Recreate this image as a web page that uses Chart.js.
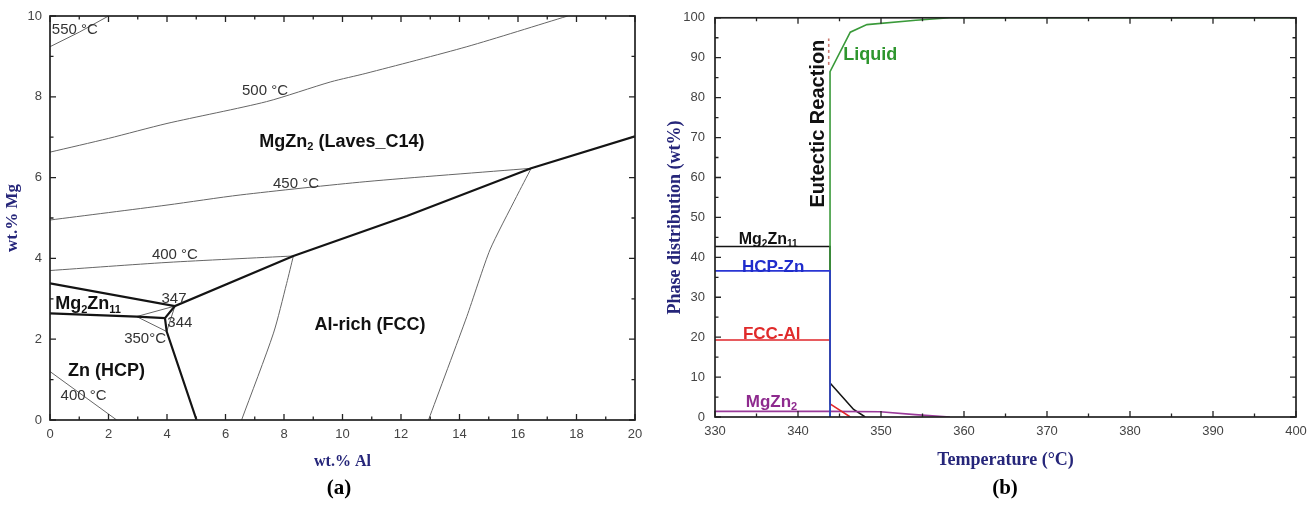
<!DOCTYPE html>
<html>
<head>
<meta charset="utf-8">
<script src="https://cdn.jsdelivr.net/npm/chart.js@4.4.1/dist/chart.umd.min.js"></script>
<style>
  html, body { margin: 0; padding: 0; background: #fff; }
  body { width: 1314px; height: 505px; position: relative; overflow: hidden; }
  .panel { position: absolute; top: 0; height: 505px; }
  #wrapA { left: 0; width: 655px; }
  #wrapB { left: 655px; width: 659px; }
  .tag { position: absolute; top: 475px; font: bold 21px "Liberation Serif", "Times New Roman", serif; color: #000; transform: translateX(-50%); }
</style>
</head>
<body>
<div class="panel" id="wrapA"><canvas id="phaseMap" width="655" height="505"></canvas></div>
<div class="panel" id="wrapB"><canvas id="phaseFrac" width="659" height="505"></canvas></div>
<div class="tag" style="left:339px">(a)</div>
<div class="tag" style="left:1005px">(b)</div>
<script>
// ---- (a) isothermal lines and phase boundaries, [wt.% Al, wt.% Mg]
const iso550 = [[0, 9.24], [1, 9.6], [2.0, 10]];
const iso500 = [[0, 6.63], [2, 6.97], [4, 7.34], [7.4, 7.88], [9.6, 8.37], [10.8, 8.58], [14.25, 9.24], [17.7, 10]];
const iso450 = [[0, 4.95], [4, 5.32], [6.5, 5.57], [10.8, 5.9], [16.45, 6.23]];
const iso400 = [[0, 3.7], [4, 3.9], [8.32, 4.06]];
const iso400low = [[0, 1.2], [2.28, 0]];
const iso350 = [[2.96, 2.56], [3.99, 2.19]];
const tieThin = [[2.96, 2.56], [4.27, 2.82], [3.99, 2.19]];
const fccLeft = [[6.55, 0], [7.64, 2.15], [8.09, 3.38], [8.32, 4.06]];
const fccRight = [[12.94, 0], [14.25, 2.56], [15.04, 4.21], [15.95, 5.53], [16.45, 6.23]];
const lavesEdge = [[0, 3.38], [4.27, 2.82], [8.32, 4.06], [12.2, 5.05], [16.45, 6.23], [20, 7.02]];
const mg2zn11Edge = [[0, 2.64], [2.96, 2.56], [3.93, 2.52], [4.27, 2.82]];
const hcpEdge = [[3.93, 2.52], [3.99, 2.19], [5.01, 0]];

// ---- (b) phase fractions vs temperature
const tMg2Zn11 = [330, 343.86, 343.86, 346.7, 348.1];
const wMg2Zn11 = [42.7, 42.7, 8.5, 1.9, 0];
const tHcp = [330, 343.86, 343.86];
const wHcp = [36.6, 36.6, 0];
const tFcc = [330, 343.86, 343.86, 346.3];
const wFcc = [19.3, 19.3, 3.3, 0];
const tMgZn2 = [330, 343.86, 349.9, 354.1, 358.3];
const wMgZn2 = [1.4, 1.4, 1.3, 0.6, 0];
const tLiquid = [343.86, 343.86, 346.3, 348.3, 354.2, 358.3, 400];
const wLiquid = [0, 86.5, 96.4, 98.3, 99.4, 100, 100];
const tEutMark = [343.7, 343.7];
const wEutMark = [88.2, 94.8];

const pts = (arr) => arr.map(([x, y]) => ({ x, y }));
const zip = (xs, ys) => xs.map((x, i) => ({ x, y: ys[i] }));

const SANS = '"Liberation Sans", Arial, sans-serif';
const SERIF = '"Liberation Serif", "Times New Roman", serif';
const NAVY = '#26267a';

// text with subscripts: parts like ['Mg', ['2'], 'Zn', ['11']]
function drawRich(ctx, parts, size, bold, color) {
  const font = (s) => (bold ? 'bold ' : '') + s + 'px ' + SANS;
  let total = 0;
  const segs = parts.map((p) => {
    const sub = Array.isArray(p);
    const txt = sub ? p[0] : p;
    const s = sub ? Math.round(size * 0.62) : size;
    ctx.font = font(s);
    const w = ctx.measureText(txt).width;
    total += w;
    return { txt, s, sub, w };
  });
  let cx = -total / 2;
  ctx.fillStyle = color;
  ctx.textBaseline = 'alphabetic';
  ctx.textAlign = 'left';
  for (const g of segs) {
    ctx.font = font(g.s);
    ctx.fillText(g.txt, cx, size * 0.36 + (g.sub ? size * 0.22 : 0));
    cx += g.w;
  }
}

const labelText = {
  id: 'labelText',
  afterDatasetsDraw(chart, args, opts) {
    const { ctx, scales: { x, y } } = chart;
    for (const l of opts.items) {
      ctx.save();
      ctx.translate(x.getPixelForValue(l.x), y.getPixelForValue(l.y));
      if (l.rotate) ctx.rotate(l.rotate);
      drawRich(ctx, l.parts, l.size, l.bold, l.color);
      ctx.restore();
    }
  }
};

// inward ticks on all four sides plus the frame
const frameTicks = {
  id: 'frameTicks',
  afterDraw(chart, args, o) {
    const { ctx, chartArea: a, scales: { x, y } } = chart;
    ctx.save();
    ctx.strokeStyle = '#222';
    ctx.lineWidth = 1.3;
    ctx.beginPath();
    const nx = Math.round((x.max - x.min) / o.xMinor);
    for (let i = 0; i <= nx; i++) {
      const px = x.getPixelForValue(x.min + i * o.xMinor);
      const len = i % o.every === 0 ? o.major : o.minor;
      ctx.moveTo(px, a.bottom); ctx.lineTo(px, a.bottom - len);
      ctx.moveTo(px, a.top); ctx.lineTo(px, a.top + len);
    }
    const ny = Math.round((y.max - y.min) / o.yMinor);
    for (let i = 0; i <= ny; i++) {
      const py = y.getPixelForValue(y.min + i * o.yMinor);
      const len = i % o.every === 0 ? o.major : o.minor;
      ctx.moveTo(a.left, py); ctx.lineTo(a.left + len, py);
      ctx.moveTo(a.right, py); ctx.lineTo(a.right - len, py);
    }
    ctx.stroke();
    ctx.lineWidth = 1.7;
    ctx.strokeRect(a.left, a.top, a.right - a.left, a.bottom - a.top);
    ctx.restore();
  }
};

function axis(min, max, step, pad, titleText, titleSize, titlePad, fixSize, isX) {
  return {
    type: 'linear', min, max,
    afterFit: (s) => { if (isX) s.height = fixSize; else s.width = fixSize; },
    ticks: { stepSize: step, padding: pad, color: '#444', autoSkip: false, maxRotation: 0,
             font: { family: SANS, size: 13 } },
    grid: { display: false, drawTicks: false },
    border: { display: false },
    title: { display: true, text: titleText, color: NAVY, padding: titlePad,
             font: { family: SERIF, size: titleSize, weight: 'bold' } }
  };
}

const thin = { borderColor: '#666', borderWidth: 1 };
const thick = { borderColor: '#141414', borderWidth: 2.2 };
const line = (data, style, extra) => Object.assign({ data, showLine: true, pointRadius: 0, tension: 0 }, style, extra || {});

const label = (text, x, y, size, bold, color, rotate) => ({ parts: text, x, y, size, bold, color, rotate });

new Chart(document.getElementById('phaseMap'), {
  type: 'scatter',
  data: {
    datasets: [
      line(pts(lavesEdge), thick),
      line(pts(mg2zn11Edge), thick),
      line(pts(hcpEdge), thick),
      line(pts(iso550), thin),
      line(pts(iso500), thin, { tension: 0.25 }),
      line(pts(iso450), thin, { tension: 0.25 }),
      line(pts(iso400), thin, { tension: 0.25 }),
      line(pts(iso400low), thin),
      line(pts(iso350), thin),
      line(pts(tieThin), thin),
      line(pts(fccLeft), thin, { tension: 0.25 }),
      line(pts(fccRight), thin, { tension: 0.2 })
    ]
  },
  options: {
    responsive: false, animation: false, devicePixelRatio: 1,
    layout: { padding: { top: 16, right: 20, left: 0, bottom: 0 } },
    scales: {
      x: axis(0, 20, 2, 7, 'wt.% Al', 16, { top: 0, bottom: 33.4 }, 85, true),
      y: axis(0, 10, 2, 8, 'wt.% Mg', 17, { top: 2.8, bottom: 0 }, 50, false)
    },
    plugins: {
      legend: { display: false }, tooltip: { enabled: false },
      frameTicks: { xMinor: 1, yMinor: 1, every: 2, major: 6, minor: 3.5 },
      labelText: {
        items: [
          label(['550 °C'], 0.85, 9.7, 15, false, '#333'),
          label(['500 °C'], 7.35, 8.19, 15, false, '#333'),
          label(['450 °C'], 8.41, 5.88, 15, false, '#333'),
          label(['400 °C'], 4.27, 4.11, 15, false, '#333'),
          label(['400 °C'], 1.15, 0.62, 15, false, '#333'),
          label(['347'], 4.24, 3.04, 15, false, '#333'),
          label(['344'], 4.44, 2.43, 15, false, '#333'),
          label(['350°C'], 3.25, 2.05, 15, false, '#333'),
          label(['MgZn', ['2'], ' (Laves_C14)'], 9.98, 6.93, 18, true, '#111'),
          label(['Mg', ['2'], 'Zn', ['11']], 1.3, 2.9, 18, true, '#111'),
          label(['Zn (HCP)'], 1.93, 1.26, 18, true, '#111'),
          label(['Al-rich (FCC)'], 10.94, 2.38, 18, true, '#111')
        ]
      }
    }
  },
  plugins: [labelText, frameTicks]
});

new Chart(document.getElementById('phaseFrac'), {
  type: 'scatter',
  data: {
    datasets: [
      line(zip(tHcp, wHcp), { borderColor: '#2a36d4', borderWidth: 1.6, order: 0 }),
      line(zip(tLiquid, wLiquid), { borderColor: '#3a9a3a', borderWidth: 1.6, order: 1 }),
      line(zip(tFcc, wFcc), { borderColor: '#e0262b', borderWidth: 1.6, order: 2 }),
      line(zip(tMgZn2, wMgZn2), { borderColor: '#9a3a9a', borderWidth: 1.6, order: 3 }),
      line(zip(tMg2Zn11, wMg2Zn11), { borderColor: '#141414', borderWidth: 1.6, order: 4 }),
      line(zip(tEutMark, wEutMark), { borderColor: '#c87a70', borderWidth: 1.6, borderDash: [3, 3], order: 5 })
    ]
  },
  options: {
    responsive: false, animation: false, devicePixelRatio: 1,
    layout: { padding: { top: 16, right: 18, left: 0, bottom: 0 } },
    scales: {
      x: axis(330, 400, 10, 7, 'Temperature (°C)', 18, { top: 0, bottom: 34.2 }, 88, true),
      y: axis(0, 100, 10, 10, 'Phase distribution (wt%)', 18, { top: 9.2, bottom: 0 }, 60, false)
    },
    plugins: {
      legend: { display: false }, tooltip: { enabled: false },
      frameTicks: { xMinor: 5, yMinor: 5, every: 2, major: 6, minor: 3.5 },
      labelText: {
        items: [
          label(['Eutectic Reaction'], 342.25, 73.5, 20, true, '#111', -Math.PI / 2),
          label(['Liquid'], 348.7, 91.1, 18, true, '#2e962e'),
          label(['Mg', ['2'], 'Zn', ['11']], 336.4, 44.9, 16, true, '#111'),
          label(['HCP-Zn'], 337.0, 37.95, 17, true, '#1f2ccc'),
          label(['FCC-Al'], 336.83, 21.0, 17, true, '#e02a2a'),
          label(['MgZn', ['2']], 336.8, 4.1, 17, true, '#8e2a8e')
        ]
      }
    }
  },
  plugins: [labelText, frameTicks]
});
</script>
</body>
</html>
